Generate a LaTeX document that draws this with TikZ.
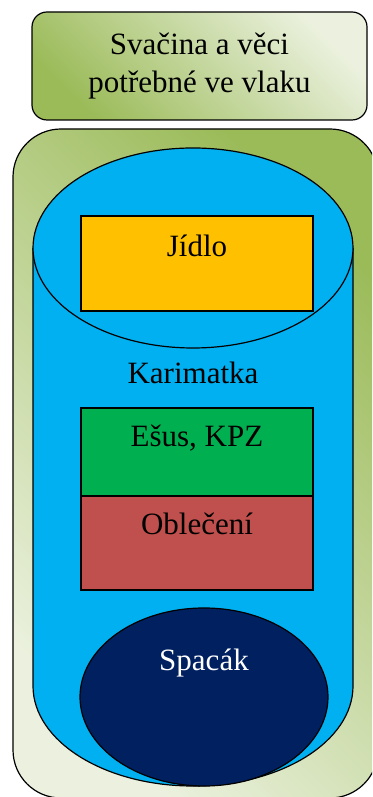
\documentclass[tikz,border=0pt]{standalone}
\usepackage{fontspec}
\setmainfont{Liberation Serif}
\usetikzlibrary{shapes.geometric}
\definecolor{gdark}{HTML}{9BBB59}
\definecolor{glight}{HTML}{EBF1DE}
\definecolor{cyl}{HTML}{00B0F0}
\definecolor{food}{HTML}{FFC000}
\definecolor{mess}{HTML}{00B050}
\definecolor{cloth}{HTML}{C0504D}
\definecolor{sleep}{HTML}{002060}
\begin{document}
\begin{tikzpicture}[x=1pt,y=1pt, line width=1.2pt,
  lbl/.style={font=\fontsize{31}{38}\selectfont, align=center, inner sep=0pt},
  itembox/.style={draw=black, rectangle, minimum width=232pt, inner sep=0pt}]
\useasboundingbox (0,0) rectangle (372,797);
\clip (0,0) rectangle (372,797);
% top box
\node[draw, rounded corners=15pt, left color=gdark, right color=glight, shading angle=135,
      minimum width=335pt, minimum height=108pt, inner sep=0pt] (top) at (199.5,731) {};
\node[lbl] (toptext) at (top.center) {Svačina a věci\\potřebné ve vlaku};
% outer box
\node[draw, rounded corners=48pt, left color=glight, right color=gdark, shading angle=135,
      minimum width=365pt, minimum height=669pt, inner sep=0pt] (outer) at (195.5,333.5) {};
% cylinder
\coordinate (ctop) at (193,549);
\coordinate (cbot) at (193,111);
\filldraw[fill=cyl] (33,549) -- (33,111) arc[start angle=180, end angle=360, x radius=160, y radius=100] -- (353,549);
\filldraw[fill=cyl] (ctop) ellipse [x radius=160, y radius=100];
% items
\node[itembox, fill=food, minimum height=95pt] (food) at (197,533.5) {};
\node[lbl] (foodtext) at (197,551) {Jídlo};
\node[lbl] (mattext) at (193,424) {Karimatka};
\node[itembox, fill=mess, minimum height=88pt] (mess) at (197,345) {};
\node[lbl] (messtext) at (197,359) {Ešus, KPZ};
\node[itembox, fill=cloth, minimum height=94pt] (cloth) at (197,254) {};
\node[lbl] (clothtext) at (197,273) {Oblečení};
\node[draw, ellipse, fill=sleep, minimum width=248pt, minimum height=178pt, inner sep=0pt] (bag) at (204,100) {};
\node[lbl, text=white] (bagtext) at (204,134) {Spacák};
\end{tikzpicture}
\end{document}
